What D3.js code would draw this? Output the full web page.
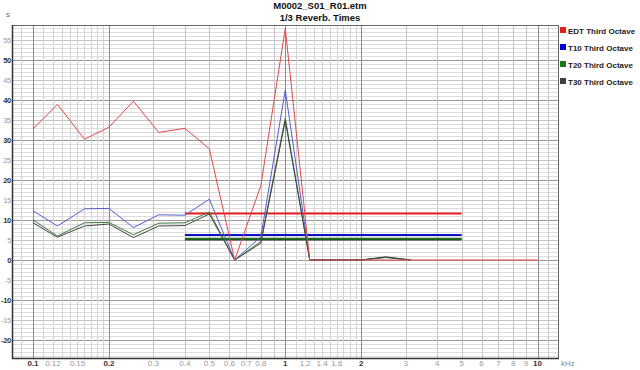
<!DOCTYPE html>
<html>
<head>
<meta charset="utf-8">
<script src="https://d3js.org/d3.v7.min.js"></script>
<style>
  body { margin: 0; background: #fff; }
  text { font-family: "Liberation Sans", Arial, sans-serif; }
</style>
</head>
<body>
<div id="chart"></div>
<script>
// third-octave centre frequencies (kHz)
var freqs = [0.1, 0.125, 0.16, 0.2, 0.25, 0.315, 0.4, 0.5, 0.63, 0.8, 1, 1.25, 1.6, 2, 2.5, 3.15, 4, 5, 6.3, 8, 10];
// reverberation times (s)
var edt = [32.8, 38.9, 30.2, 33.2, 39.7, 31.9, 32.9, 27.8, 0, 18.6, 57.9, 0, 0, 0, 0, 0, 0, 0, 0, 0, 0];
var t10 = [12.3, 8.5, 12.8, 12.9, 8.1, 11.3, 11.2, 15.2, 0, 5.8, 42.5, 0, 0, 0, 0.7, 0, null, null, null, null, null];
var t20 = [10.0, 6.0, 9.3, 9.4, 6.3, 9.2, 9.3, 12.0, 0, 4.6, 35.5, 0, 0, 0, 0.6, 0, null, null, null, null, null];
var t30 = [9.3, 5.7, 8.5, 9.0, 5.6, 8.5, 8.6, 11.5, 0, 4.2, 34.8, 0, 0, 0, 0.8, 0, null, null, null, null, null];
// averages over 0.4 - 5 kHz
var meanRange = [0.4, 5];
var means = [11.6, 6.25, 5.3, 5.1];

var seriesNames = ["EDT Third Octave", "T10 Third Octave", "T20 Third Octave", "T30 Third Octave"];

var xTickValues = [0.1, 0.12, 0.15, 0.2, 0.3, 0.4, 0.5, 0.6, 0.7, 0.8, 1, 1.2, 1.4, 1.6, 2, 3, 4, 5, 6, 7, 8, 9, 10];
var xMajor = [0.1, 0.2, 1, 2, 10];
var xMinor = [0.09, 0.11, 0.12, 0.13, 0.14, 0.15, 0.16, 0.17, 0.18, 0.19,
              0.3, 0.4, 0.5, 0.6, 0.7, 0.8, 0.9,
              1.1, 1.2, 1.3, 1.4, 1.5, 1.6, 1.7, 1.8, 1.9,
              3, 4, 5, 6, 7, 8, 9, 11];
var yTickValues = [55, 50, 45, 40, 35, 30, 25, 20, 15, 10, 5, 0, -5, -10, -15, -20];

var width = 640, height = 370;
var L = 12, R = 558, T = 25, B = 358;

var svg = d3.select("#chart").append("svg")
  .attr("width", width).attr("height", height);

var x = d3.scaleLog().domain([0.08256, 12.05]).range([L, R]);
var y = d3.scaleLinear().domain([-24.5, 58.75]).range([B, T]);

// horizontal grid, 1 s steps
var g = svg.append("g");
d3.range(-24, 59).forEach(function (v) {
  var c = v % 10 === 0 ? "#9a9a9a" : (v % 5 === 0 ? "#c4c4c4" : "#dcdcdc");
  g.append("line")
    .attr("x1", L).attr("x2", R)
    .attr("y1", Math.round(y(v)) + 0.5).attr("y2", Math.round(y(v)) + 0.5)
    .attr("stroke", c).attr("stroke-width", 1);
});
// vertical grid
xMinor.forEach(function (f) {
  g.append("line")
    .attr("x1", Math.round(x(f)) + 0.5).attr("x2", Math.round(x(f)) + 0.5)
    .attr("y1", T).attr("y2", B)
    .attr("stroke", f < 0.2 || (f > 1 && f < 2) ? "#d4d4d4" : "#c4c4c4");
});
xMajor.forEach(function (f) {
  g.append("line")
    .attr("x1", Math.round(x(f)) + 0.5).attr("x2", Math.round(x(f)) + 0.5)
    .attr("y1", T).attr("y2", B)
    .attr("stroke", "#8a8a8a");
});

// frame
svg.append("rect")
  .attr("x", L + 0.5).attr("y", T + 0.5)
  .attr("width", R - L).attr("height", B - T)
  .attr("fill", "none").attr("stroke", "#666").attr("stroke-width", 1);
svg.append("line").attr("x1", L + 0.5).attr("x2", L + 0.5).attr("y1", T).attr("y2", B + 1)
  .attr("stroke", "#333").attr("stroke-width", 1.5);
svg.append("line").attr("x1", L).attr("x2", R + 1).attr("y1", B + 0.5).attr("y2", B + 0.5)
  .attr("stroke", "#333").attr("stroke-width", 1.5);

// y labels
svg.append("g").selectAll("text").data(yTickValues).enter().append("text")
  .attr("x", 11).attr("y", function (d) { return y(d) + 3; })
  .attr("text-anchor", "end")
  .attr("font-size", 7.5)
  .attr("letter-spacing", -0.3)
  .attr("font-weight", function (d) { return d % 10 === 0 ? "bold" : "normal"; })
  .attr("fill", function (d) { return d % 10 === 0 ? "#333" : "#999"; })
  .text(function (d) { return d; });
svg.append("text").attr("x", 8).attr("y", 17).attr("text-anchor", "middle")
  .attr("font-size", 8).attr("fill", "#666").text("s");

// x labels
svg.append("g").selectAll("text").data(xTickValues).enter().append("text")
  .attr("x", function (d) { return x(d); }).attr("y", 366)
  .attr("text-anchor", "middle")
  .attr("font-size", 8)
  .attr("font-weight", function (d) { return xMajor.indexOf(d) >= 0 ? "bold" : "normal"; })
  .attr("fill", function (d) { return xMajor.indexOf(d) >= 0 ? "#333" : "#999"; })
  .text(function (d) { return d; });
svg.append("text").attr("x", 561).attr("y", 366)
  .attr("font-size", 8).attr("fill", "#888").text("kHz");

// titles
svg.append("text").attr("x", 320).attr("y", 9).attr("text-anchor", "middle")
  .attr("font-size", 9.5).attr("font-weight", "bold").attr("fill", "#111")
  .text("M0002_S01_R01.etm");
svg.append("text").attr("x", 320).attr("y", 21).attr("text-anchor", "middle")
  .attr("font-size", 9.5).attr("font-weight", "bold").attr("fill", "#111")
  .text("1/3 Reverb. Times");

// series
var lineColors = ["#e04848", "#5a5ad0", "#3a7a3a", "#444"];
var meanColors = ["#e82020", "#1010c8", "#1a6a1a", "#303030"];
var legendColors = ["#e02020", "#0000d8", "#1a7a1a", "#404040"];
var data = [edt, t10, t20, t30];

var line = d3.line()
  .defined(function (d) { return d[1] !== null; })
  .x(function (d) { return x(d[0]); })
  .y(function (d) { return y(d[1]); });

var plot = svg.append("g");
// mean lines
[3, 2, 1, 0].forEach(function (i) {
  plot.append("line")
    .attr("x1", x(meanRange[0])).attr("x2", x(meanRange[1]))
    .attr("y1", y(means[i])).attr("y2", y(means[i]))
    .attr("stroke", meanColors[i]).attr("stroke-width", 2);
});
// curves, EDT drawn last
[1, 2, 3, 0].forEach(function (i) {
  plot.append("path")
    .datum(freqs.map(function (f, j) { return [f, data[i][j]]; }))
    .attr("d", line)
    .attr("fill", "none")
    .attr("stroke", lineColors[i])
    .attr("stroke-width", 1);
});

// legend
var leg = svg.append("g").selectAll("g").data(seriesNames).enter().append("g")
  .attr("transform", function (d, i) { return "translate(560," + (27 + i * 17) + ")"; });
leg.append("rect").attr("x", 0).attr("y", 0).attr("width", 6).attr("height", 6)
  .attr("fill", function (d, i) { return legendColors[i]; });
leg.append("text").attr("x", 8).attr("y", 6.5)
  .attr("font-size", 8).attr("font-weight", "bold").attr("fill", "#222")
  .text(function (d) { return d; });
</script>
</body>
</html>
